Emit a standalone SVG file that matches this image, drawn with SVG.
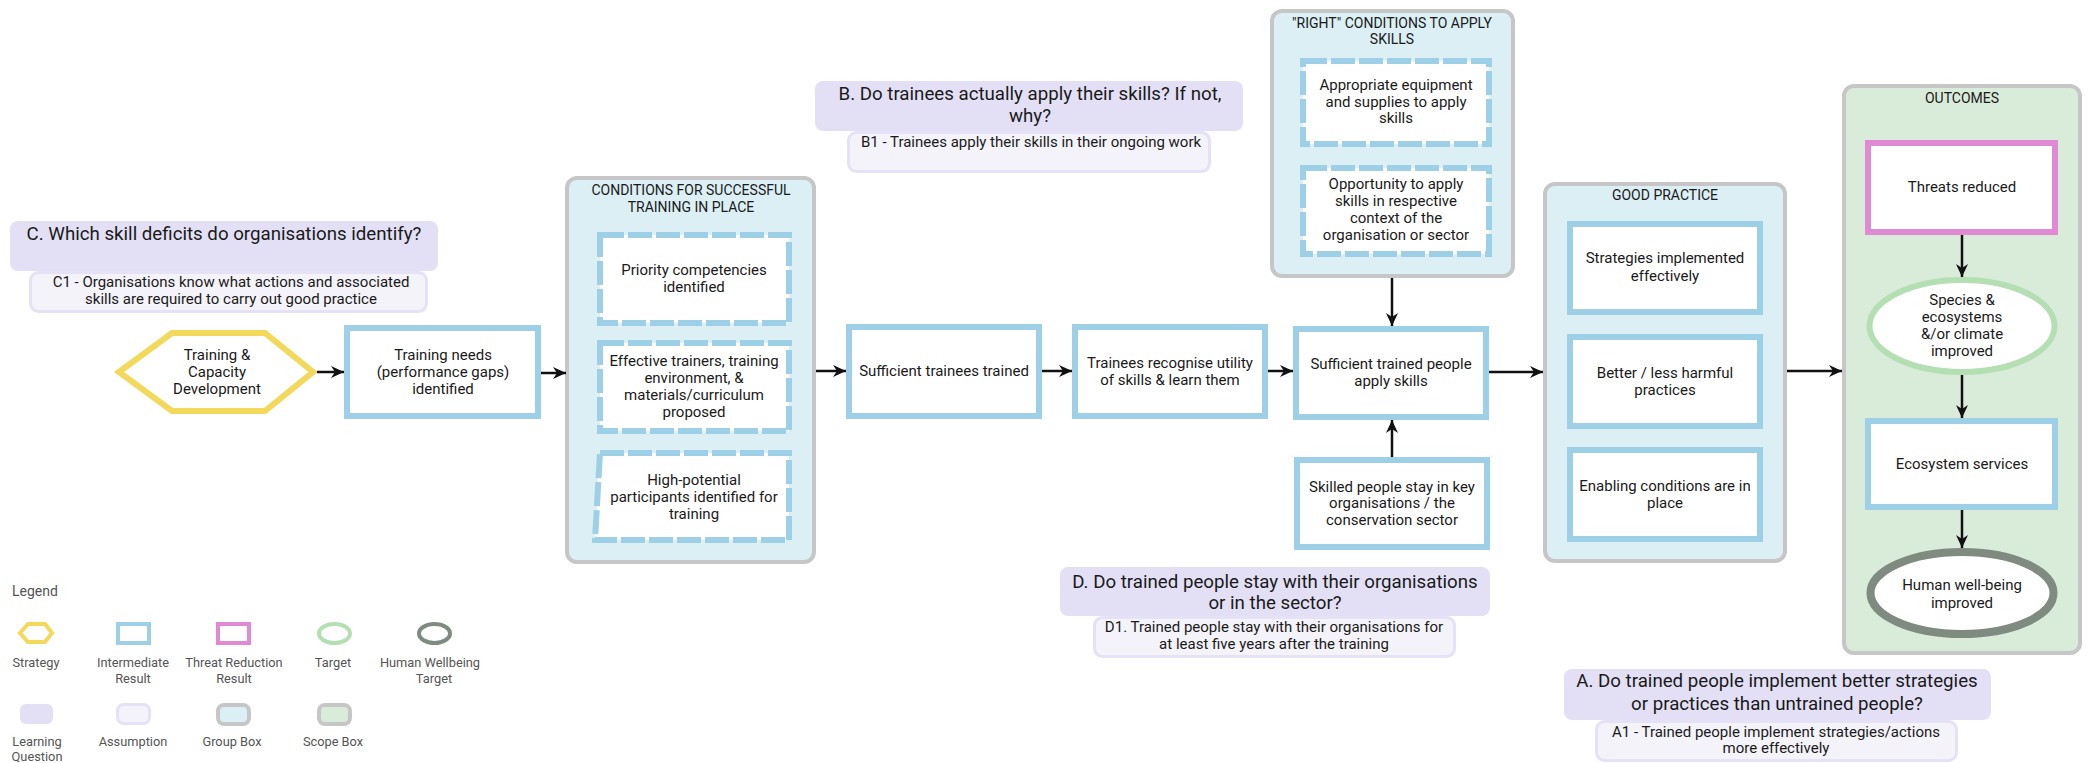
<svg xmlns="http://www.w3.org/2000/svg" width="2090" height="763" viewBox="0 0 2090 763">
  <defs>
    <marker id="arrow" markerUnits="userSpaceOnUse" markerWidth="14" markerHeight="12" refX="13" refY="6" orient="auto">
      <path d="M0,0 L13,6 L0,12 L4,6 z" fill="#111"/>
    </marker>
    <style>
      text { font-family: Roboto, "Liberation Sans", sans-serif; fill: #1a1a1a; text-anchor: middle; dominant-baseline: central; }
      .node { font-size: 15px; }
      .q { font-size: 18.7px; }
      .a { font-size: 15px; }
      .title { font-size: 14px; }
      .leg { font-size: 12.8px; fill: #555; }
      .ir { fill: #fff; stroke: #9dd0e6; stroke-width: 6; }
      .ird { fill: #fff; stroke: #9dd0e6; stroke-width: 6; stroke-dasharray: 24 4; }
      .tr { fill: #fff; stroke: #e089d4; stroke-width: 6; }
      .tg { fill: #fff; stroke: #b3dfb3; stroke-width: 6; }
      .hw { fill: #fff; stroke: #7f8b80; stroke-width: 8; }
      .st { fill: #fff; stroke: #f2d95b; stroke-width: 6; }
      .grp { fill: #dbeff4; stroke: #c6c6c6; stroke-width: 4; }
      .scope { fill: #d9ebd9; stroke: #c6c6c6; stroke-width: 4; }
      .lq { fill: #e3e0f5; }
      .as { fill: #f4f3f9; stroke: #e5e1f6; stroke-width: 3; }
      .conn { fill: none; stroke: #111; stroke-width: 2.5; marker-end: url(#arrow); }
    </style>
  </defs>

  <rect width="2090" height="763" fill="#fff"/>

  <!-- Group boxes -->
  <g id="grp-conditions">
    <rect class="grp" x="567" y="178" width="247" height="384" rx="10"/>
    <text class="title" x="691" y="190">CONDITIONS FOR SUCCESSFUL</text>
    <text class="title" x="691" y="207">TRAINING IN PLACE</text>
  </g>
  <g id="grp-right-conditions">
    <rect class="grp" x="1272" y="11" width="241" height="265" rx="10"/>
    <text class="title" x="1392" y="23">"RIGHT" CONDITIONS TO APPLY</text>
    <text class="title" x="1392" y="39">SKILLS</text>
  </g>
  <g id="grp-good-practice">
    <rect class="grp" x="1545" y="184" width="240" height="377" rx="10"/>
    <text class="title" x="1665" y="195">GOOD PRACTICE</text>
  </g>
  <g id="grp-outcomes">
    <rect class="scope" x="1844" y="86" width="236" height="567" rx="10"/>
    <text class="title" x="1962" y="98">OUTCOMES</text>
  </g>

  <!-- Learning questions and assumptions -->
  <g id="lq-c">
    <rect class="lq" x="10" y="221" width="428" height="50" rx="8"/>
    <text class="q" x="224" y="234">C. Which skill deficits do organisations identify?</text>
  </g>
  <g id="as-c1">
    <rect class="as" x="30.5" y="272.5" width="396" height="39" rx="8"/>
    <text class="a" x="231" y="282">C1 - Organisations know what actions and associated</text>
    <text class="a" x="231" y="299">skills are required to carry out good practice</text>
  </g>
  <g id="lq-b">
    <rect class="lq" x="815" y="81" width="428" height="50" rx="8"/>
    <text class="q" x="1030" y="94">B. Do trainees actually apply their skills? If not,</text>
    <text class="q" x="1030" y="116">why?</text>
  </g>
  <g id="as-b1">
    <rect class="as" x="848.5" y="132.5" width="361" height="39" rx="8"/>
    <text class="a" x="1031" y="142">B1 - Trainees apply their skills in their ongoing work</text>
  </g>
  <g id="lq-d">
    <rect class="lq" x="1060" y="567" width="430" height="49" rx="8"/>
    <text class="q" x="1275" y="582">D. Do trained people stay with their organisations</text>
    <text class="q" x="1275" y="603">or in the sector?</text>
  </g>
  <g id="as-d1">
    <rect class="as" x="1094.5" y="617.5" width="360" height="39" rx="8"/>
    <text class="a" x="1274" y="627">D1. Trained people stay with their organisations for</text>
    <text class="a" x="1274" y="644">at least five years after the training</text>
  </g>
  <g id="lq-a">
    <rect class="lq" x="1564" y="669" width="427" height="51" rx="8"/>
    <text class="q" x="1777" y="681">A. Do trained people implement better strategies</text>
    <text class="q" x="1777" y="704">or practices than untrained people?</text>
  </g>
  <g id="as-a1">
    <rect class="as" x="1596.5" y="721.5" width="360" height="39" rx="8"/>
    <text class="a" x="1776" y="732">A1 - Trained people implement strategies/actions</text>
    <text class="a" x="1776" y="748">more effectively</text>
  </g>

  <!-- Strategy -->
  <g id="strategy">
    <polygon class="st" points="119,372 172,333 265,333 313,372 265,411 172,411"/>
    <text class="node" x="217" y="355">Training &amp;</text>
    <text class="node" x="217" y="372">Capacity</text>
    <text class="node" x="217" y="389">Development</text>
  </g>

  <!-- Intermediate results -->
  <g id="training-needs">
    <rect class="ir" x="347" y="328" width="191" height="88"/>
    <text class="node" x="443" y="355">Training needs</text>
    <text class="node" x="443" y="372">(performance gaps)</text>
    <text class="node" x="443" y="389">identified</text>
  </g>
  <g id="priority-competencies">
    <rect class="ird" x="600" y="235" width="189" height="88"/>
    <text class="node" x="694" y="270">Priority competencies</text>
    <text class="node" x="694" y="287">identified</text>
  </g>
  <g id="effective-trainers">
    <rect class="ird" x="600" y="343" width="189" height="88"/>
    <text class="node" x="694" y="361">Effective trainers, training</text>
    <text class="node" x="694" y="378">environment, &amp;</text>
    <text class="node" x="694" y="395">materials/curriculum</text>
    <text class="node" x="694" y="412">proposed</text>
  </g>
  <g id="high-potential">
    <path class="ird" d="M600,453 L789,453 L789,540 L595,540 Z"/>
    <text class="node" x="694" y="480">High-potential</text>
    <text class="node" x="694" y="497">participants identified for</text>
    <text class="node" x="694" y="514">training</text>
  </g>
  <g id="sufficient-trainees">
    <rect class="ir" x="849" y="327" width="190" height="89"/>
    <text class="node" x="944" y="371">Sufficient trainees trained</text>
  </g>
  <g id="trainees-recognise">
    <rect class="ir" x="1075" y="327" width="190" height="89"/>
    <text class="node" x="1170" y="363">Trainees recognise utility</text>
    <text class="node" x="1170" y="380">of skills &amp; learn them</text>
  </g>
  <g id="equipment">
    <rect class="ird" x="1303" y="61" width="186" height="83"/>
    <text class="node" x="1396" y="85">Appropriate equipment</text>
    <text class="node" x="1396" y="102">and supplies to apply</text>
    <text class="node" x="1396" y="118">skills</text>
  </g>
  <g id="opportunity">
    <rect class="ird" x="1303" y="168" width="186" height="86"/>
    <text class="node" x="1396" y="184">Opportunity to apply</text>
    <text class="node" x="1396" y="201">skills in respective</text>
    <text class="node" x="1396" y="218">context of the</text>
    <text class="node" x="1396" y="235">organisation or sector</text>
  </g>
  <g id="apply-skills">
    <rect class="ir" x="1296" y="329" width="190" height="88"/>
    <text class="node" x="1391" y="364">Sufficient trained people</text>
    <text class="node" x="1391" y="381">apply skills</text>
  </g>
  <g id="skilled-stay">
    <rect class="ir" x="1297" y="460" width="190" height="87"/>
    <text class="node" x="1392" y="487">Skilled people stay in key</text>
    <text class="node" x="1392" y="503">organisations / the</text>
    <text class="node" x="1392" y="520">conservation sector</text>
  </g>
  <g id="strategies-implemented">
    <rect class="ir" x="1570" y="224" width="190" height="88"/>
    <text class="node" x="1665" y="258">Strategies implemented</text>
    <text class="node" x="1665" y="276">effectively</text>
  </g>
  <g id="better-practices">
    <rect class="ir" x="1570" y="337" width="190" height="89"/>
    <text class="node" x="1665" y="373">Better / less harmful</text>
    <text class="node" x="1665" y="390">practices</text>
  </g>
  <g id="enabling-conditions">
    <rect class="ir" x="1570" y="450" width="190" height="89"/>
    <text class="node" x="1665" y="486">Enabling conditions are in</text>
    <text class="node" x="1665" y="503">place</text>
  </g>

  <!-- Outcomes -->
  <g id="threats-reduced">
    <rect class="tr" x="1868" y="143" width="187" height="89"/>
    <text class="node" x="1962" y="187">Threats reduced</text>
  </g>
  <g id="species-improved">
    <ellipse class="tg" cx="1962" cy="326" rx="92.5" ry="46"/>
    <text class="node" x="1962" y="300">Species &amp;</text>
    <text class="node" x="1962" y="317">ecosystems</text>
    <text class="node" x="1962" y="334">&amp;/or climate</text>
    <text class="node" x="1962" y="351">improved</text>
  </g>
  <g id="ecosystem-services">
    <rect class="ir" x="1868" y="421" width="187" height="86"/>
    <text class="node" x="1962" y="464">Ecosystem services</text>
  </g>
  <g id="human-wellbeing">
    <ellipse class="hw" cx="1962" cy="593" rx="91.5" ry="41"/>
    <text class="node" x="1962" y="585">Human well-being</text>
    <text class="node" x="1962" y="603">improved</text>
  </g>

  <!-- Connectors -->
  <g id="connectors">
    <path class="conn" d="M317,372 H344"/>
    <path class="conn" d="M541,373 H566"/>
    <path class="conn" d="M816,371 H846"/>
    <path class="conn" d="M1042,371 H1072"/>
    <path class="conn" d="M1268,371 H1293"/>
    <path class="conn" d="M1489,372 H1543"/>
    <path class="conn" d="M1787,371 H1842"/>
    <path class="conn" d="M1392,278 V326"/>
    <path class="conn" d="M1392,457 V420"/>
    <path class="conn" d="M1962,235 V277"/>
    <path class="conn" d="M1962,375 V418"/>
    <path class="conn" d="M1962,510 V548"/>
  </g>

  <!-- Legend -->
  <g id="legend">
    <text class="leg" x="12" y="591" style="text-anchor:start;font-size:14px">Legend</text>
    <polygon points="20,633 28,624 45,624 52,633 45,642 28,642" fill="#fff" stroke="#f2d95b" stroke-width="4"/>
    <rect x="118" y="624" width="31" height="19" fill="#fff" stroke="#9dd0e6" stroke-width="4"/>
    <rect x="218" y="624" width="31" height="19" fill="#fff" stroke="#e089d4" stroke-width="4"/>
    <ellipse cx="334.5" cy="633.5" rx="15.5" ry="9.5" fill="#fff" stroke="#b3dfb3" stroke-width="4"/>
    <ellipse cx="434.5" cy="633.5" rx="15.5" ry="9.5" fill="#fff" stroke="#7f8b80" stroke-width="4"/>
    <text class="leg" x="36" y="662">Strategy</text>
    <text class="leg" x="133" y="662">Intermediate</text>
    <text class="leg" x="133" y="678">Result</text>
    <text class="leg" x="234" y="662">Threat Reduction</text>
    <text class="leg" x="234" y="678">Result</text>
    <text class="leg" x="333" y="662">Target</text>
    <text class="leg" x="430" y="662">Human Wellbeing</text>
    <text class="leg" x="434" y="678">Target</text>
    <rect x="20" y="704" width="33" height="20" rx="6" fill="#e3e0f5"/>
    <rect x="117.5" y="704.5" width="32" height="19" rx="6" fill="#f4f3f9" stroke="#e5e1f6" stroke-width="3"/>
    <rect x="218" y="705" width="31" height="19" rx="6" fill="#dbeff4" stroke="#c6c6c6" stroke-width="4"/>
    <rect x="319" y="705" width="31" height="19" rx="6" fill="#d9ebd9" stroke="#c6c6c6" stroke-width="4"/>
    <text class="leg" x="37" y="741">Learning</text>
    <text class="leg" x="37" y="756">Question</text>
    <text class="leg" x="133" y="741">Assumption</text>
    <text class="leg" x="232" y="741">Group Box</text>
    <text class="leg" x="333" y="741">Scope Box</text>
  </g>
</svg>
